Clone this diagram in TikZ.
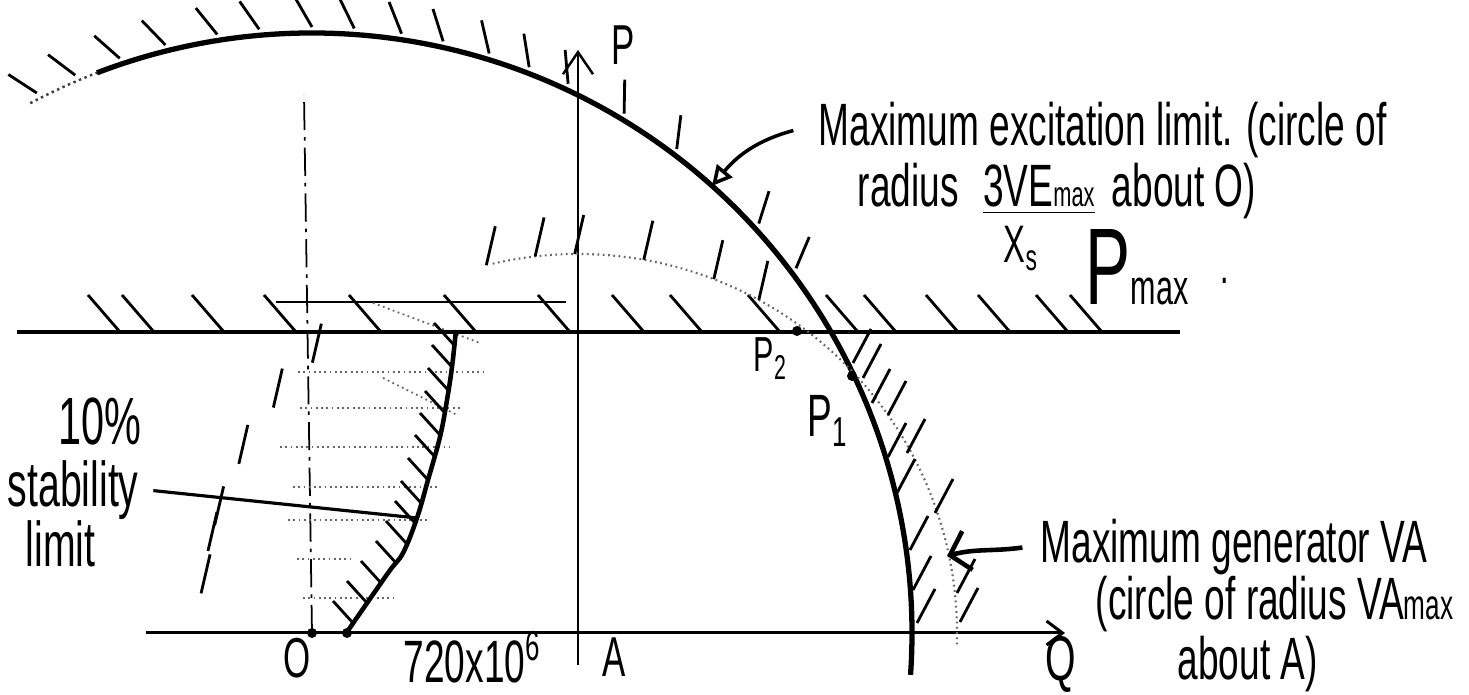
\documentclass[tikz,border=0pt]{standalone}
\usepackage{fontspec}
\newfontfamily\handfont[FakeStretch=0.62]{Liberation Sans}
\usetikzlibrary{arrows.meta, calc, positioning}
\newcommand\hw[1]{\handfont\fontsize{#1}{#1}\selectfont}
\tikzset{
  lbl/.style={inner sep=0pt, anchor=base west},
  axisline/.style={line width=0.85pt, -{Straight Barb[length=1.6mm, width=2.4mm]}},
  limitline/.style={line width=1.5pt},
  stabline/.style={line width=1.3pt},
  hatch/.style={line width=0.8pt},
  guide/.style={black!60, line width=0.5pt, densely dotted},
  leader/.style={line width=0.9pt},
  spot/.style={fill=black}
}

\begin{document}
\begin{tikzpicture}[x=0.01cm, y=0.01cm]
  \useasboundingbox (0,0) rectangle (1469,695);
  % reference points
  \coordinate (O) at (312,62);
  \coordinate (A) at (578,62);
  \coordinate (K) at (347,62);
  \coordinate (P1) at (852,319);
  \coordinate (P2) at (797,364);
  \coordinate (Qstart) at (146,62);
  \coordinate (Qend) at (1065,62);
  \coordinate (Pbot) at (578,30);
  \coordinate (Ptop) at (578,645);
  \coordinate (Otop) at (304,600);
  \coordinate (PmL) at (17,363);
  \coordinate (PmR) at (1180,363);
  \coordinate (stabpt) at (417,177);
  \coordinate (excpt) at (712,509);
  \coordinate (vapt) at (947,139);

  % axes
  \draw[axisline] (Qstart) -- (Qend);
  \draw[line width=0.7pt, -{Straight Barb[length=2.2mm, width=3mm]}] (Pbot) -- (Ptop);
  \draw[line width=0.5pt, dash pattern=on 8pt off 2pt on 1pt off 2pt] (O) -- (Otop);

  % construction lines
  \draw[line width=0.5pt] (276,393) -- (566,393);
  \foreach \y/\a/\b in {323/298/483, 287/300/463, 248/280/450, 208/293/440,
                        175/288/428, 136/297/350, 97/303/397}
    \draw[guide] (\a,\y) -- (\b,\y);
  \draw[guide] (373,392) -- (480,352);
  \draw[guide] (383,317) -- (457,280);

  % P max line
  \draw[line width=1.1pt] (PmL) -- (PmR);
  \foreach \x in {88,122,192,264,349,444,538,612,670,748,826,864,926,978,1036,1070}
    \draw[hatch] (\x,400) -- ++(32,-37);

  % excitation limit, circle about O
  \draw[black!75, line width=0.7pt, densely dotted] ($(O)+(118:600)$) arc[start angle=118, end angle=111, radius=600];
  \draw[limitline] ($(O)+(111:600)$) arc[start angle=111, end angle=-4, radius=600];
  \foreach \a in {117,113,108.5,104,99,95,90,86,81.5,77.5,73,69,65,59,53,42.5,37}
    \draw[hatch] ($(O)+(\a:606)$) -- ++(\a+30:34);

  % generator VA, circle about A
  \draw[guide, line width=0.6pt] ($(A)+(103:379)$) arc[start angle=103, end angle=-2, radius=379];
  \foreach \a in {174,167.5,163.5,153.5,143.5,134.5,104,96.5,90.5,80,69,61.5}
    \draw[hatch] ($(A)+(\a:379)$) -- ++(77:40);
  \foreach \x/\y in {853/332, 863/317, 872/292, 888/280, 888/238, 907/242, 897/202,
                     935/182, 910/145, 913/105, 957/102, 917/72, 960/73}
    \draw[hatch] (\x,\y) -- ++(18,34);

  % stability limit
  \draw[stabline] plot[smooth, tension=0.6] coordinates {(347,63) (388,122) (403,142)
    (417,177) (428,215) (440,258) (447,295) (452,328) (456,365)};
  \foreach \x/\y in {353/72, 367/92, 381/112, 396/132, 406/152, 415/172, 421/192,
                     428/215, 435/238, 440/260, 445/282, 448/305, 452/328, 454/350}
    \draw[hatch] (\x,\y) -- ++(-20,22);

  % points
  \foreach \p in {O,K,P1,P2}
    \fill[spot] (\p) circle[radius=5];

  % labels
  \node[lbl] (plab) at (611,630) {\hw{16}P};
  \node[lbl] (pmax) at (1085,390) {\hw{31}P\hw{14}max\hspace{9pt}\raisebox{6pt}{.}};
  \node[lbl] (p2lab) at (753,323) {\hw{14}P\textsubscript{2}};
  \node[lbl] (p1lab) at (807,258) {\hw{17}P\textsubscript{1}};

  \node[lbl] (exctext) at (818,549) {\hw{17}Maximum excitation limit. (circle of};
  \node[lbl] (excrad) at (857,488)
    {\hw{17}radius\hspace{7pt}\underline{3VE{\hw{10}max}}\hspace{2pt} about O)};
  \node[lbl] (xs) at (1003,432) {\hw{15}X\textsubscript{s}};
  \draw[leader, line width=1pt, -{Triangle[open, length=2mm, width=2mm]}]
    ([xshift=-7pt]exctext.west) to[out=195, in=50] (excpt);

  \node[lbl] (tenpct) at (58,250) {\hw{19}10\%};
  \node[lbl] (stabtxt) at (7,188) {\hw{18}stability};
  \node[lbl] (limtxt) at (25,128) {\hw{18}limit};
  \draw[leader] ([xshift=4pt]stabtxt.east) -- (stabpt);

  \node[lbl] (gentext) at (1040,132) {\hw{17}Maximum generator VA};
  \node[lbl] (gencirc) at (1095,75) {\hw{17}(circle of radius VA{\hw{12}max}};
  \node[lbl] (genabout) at (1177,15) {\hw{17}about A)};
  \draw[leader, line width=1.3pt, -{Straight Barb[length=1.8mm, width=4mm]}]
    ([xshift=-5pt]gentext.west) to[out=188, in=15] (vapt);

  \node[lbl] (olab) at (283,17) {\hw{16}O};
  \node[lbl] (klab) at (403,12) {\hw{17}720x10\textsuperscript{6}};
  \node[lbl] (alab) at (602,18) {\hw{16}A};
  \node[lbl] (qlab) at (1045,14) {\hw{18}Q};
\end{tikzpicture}
\end{document}
